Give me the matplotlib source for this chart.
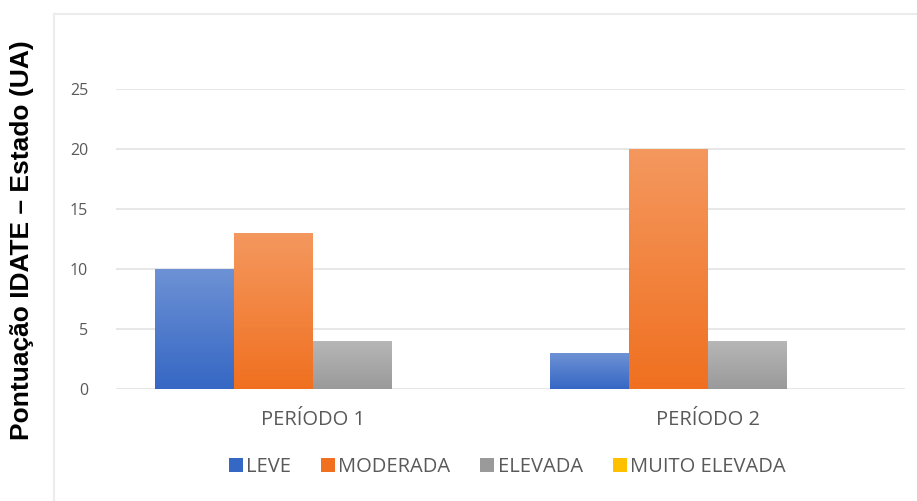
"""Pontuação IDATE-Estado por período."""

import matplotlib

matplotlib.use("Agg")

import matplotlib.pyplot as plt
import numpy as np
from matplotlib.colors import LinearSegmentedColormap, to_rgb
from matplotlib.lines import Line2D
from matplotlib.patches import Patch

periods = ["PERÍODO 1", "PERÍODO 2"]
levels = ["LEVE", "MODERADA", "ELEVADA", "MUITO ELEVADA"]
leve = [10, 3]
moderada = [13, 20]
elevada = [4, 4]
muito_elevada = [0, 0]
series = [leve, moderada, elevada, muito_elevada]
colors = ["#3567c4", "#f07020", "#9a9a9a", "#ffc000"]
yticks = [0, 5, 10, 15, 20, 25]


def lighten(c, amt):
    r, g, b = to_rgb(c)
    return (r + (1 - r) * amt, g + (1 - g) * amt, b + (1 - b) * amt)


fig = plt.figure(figsize=(9.17, 5.01), dpi=100, facecolor="white")
ax = fig.add_axes([116 / 917, 1 - 389 / 501, 789 / 917, 300 / 501])

x = np.arange(len(periods))
width = 0.2
grad = np.linspace(0, 1, 256).reshape(-1, 1)
for i, (vals, col) in enumerate(zip(series, colors)):
    bars = ax.bar(x + (i - 1.5) * width, vals, width, color=col, zorder=2)
    cmap = LinearSegmentedColormap.from_list("g", [col, lighten(col, 0.28)])
    for b in bars:
        if b.get_height() <= 0:
            continue
        x0, w, h = b.get_x(), b.get_width(), b.get_height()
        im = ax.imshow(grad, extent=(x0, x0 + w, 0, h), origin="lower",
                       cmap=cmap, aspect="auto", zorder=3)
        im.set_clip_path(b)

ax.set_xlim(-0.5, 1.5)
ax.set_ylim(0, 25)
ax.set_yticks(yticks)
ax.set_xticks(x)
ax.set_xticklabels(periods)
ax.grid(axis="y", color="#e3e3e3", lw=1.2, zorder=0)
ax.set_axisbelow(True)
for s in ax.spines.values():
    s.set_visible(False)
ax.tick_params(length=0, colors="#595959")
ax.tick_params(axis="y", labelsize=11.5, pad=20)
ax.tick_params(axis="x", labelsize=14.5, pad=15)
for t in ax.get_xticklabels() + ax.get_yticklabels():
    t.set_fontfamily("Open Sans")

fig.text(0.024, 1 - 240 / 501, "Pontuação IDATE – Estado (UA)", rotation=90,
         ha="center", va="center", fontsize=19, fontweight="bold",
         family="Liberation Sans")

handles = [Patch(facecolor=c, edgecolor="none") for c in colors]
fig.legend(handles, levels, loc="center", bbox_to_anchor=(0.553, 1 - 467 / 501),
           ncol=4, frameon=False, handlelength=0.7, handleheight=0.7,
           handletextpad=0.15, columnspacing=1.5,
           prop={"family": "Open Sans", "size": 14.5}, labelcolor="#595959")

# faint chart-area frame
fig.add_artist(Line2D([54 / 917, 1], [1 - 14 / 501] * 2, color="#ececec", lw=1.5))
fig.add_artist(Line2D([54 / 917] * 2, [0, 1 - 14 / 501], color="#ececec", lw=1.5))

fig.savefig("out.png", dpi=100, facecolor="white")
